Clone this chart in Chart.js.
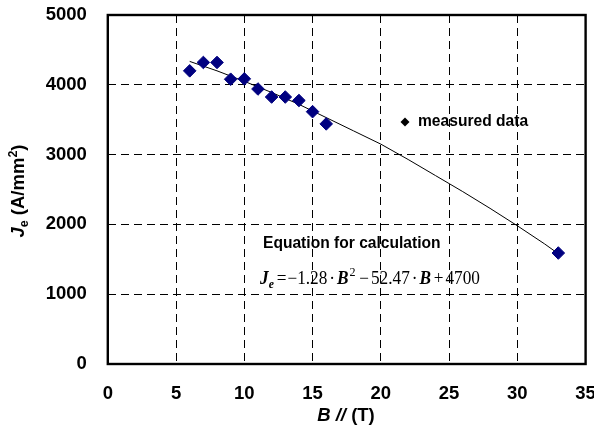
<!DOCTYPE html>
<html>
<head>
<meta charset="utf-8">
<script src="https://cdn.jsdelivr.net/npm/chart.js@4/dist/chart.umd.min.js"></script>
<style>
  html, body { margin: 0; padding: 0; background: #fff; }
  #c { display: block; }
</style>
</head>
<body>
<canvas id="c" width="594" height="427"></canvas>
<script>
// Measured data (B // in T, Je in A/mm^2)
const measuredB = [6, 7, 8, 9, 10, 11, 12, 13, 14, 15, 16, 33];
const measuredJe = [4200, 4320, 4320, 4080, 4085, 3940, 3825, 3825, 3775, 3615, 3440, 1590];

// Fitted curve
const fitB = [6, 8, 10, 12, 14, 16, 18, 20, 22, 24, 26, 28, 30, 32, 33];
const fitJe = [4335, 4200, 4050, 3890, 3720, 3530, 3340, 3150, 2930, 2700, 2470, 2230, 1980, 1720, 1580];

const xTicks = [0, 5, 10, 15, 20, 25, 30, 35];
const yTicks = [0, 1000, 2000, 3000, 4000, 5000];

const legendLabel = 'measured data';
const equationTitle = 'Equation for calculation';

const SANS = '"Liberation Sans", Arial, sans-serif';
const SERIF = '"Liberation Serif", "Times New Roman", serif';

function drawRuns(ctx, runs, x, y) {
  let cx = x;
  for (const r of runs) {
    ctx.font = r.font;
    ctx.fillText(r.t, cx, y + (r.dy || 0));
    cx += ctx.measureText(r.t).width + (r.gap || 0);
  }
  return cx - x;
}
function runsWidth(ctx, runs) {
  let w = 0;
  for (const r of runs) { ctx.font = r.font; w += ctx.measureText(r.t).width + (r.gap || 0); }
  return w;
}

const decor = {
  id: 'decor',
  afterDraw(chart) {
    const ctx = chart.ctx;
    const a = chart.chartArea;
    ctx.save();
    // frame
    ctx.strokeStyle = '#000';
    ctx.lineWidth = 2.4;
    ctx.strokeRect(a.left, a.top, a.right - a.left, a.bottom - a.top);

    ctx.fillStyle = '#000';
    ctx.textBaseline = 'alphabetic';
    ctx.textAlign = 'left';

    // x-axis title
    const xr = [
      { t: 'B //', font: `italic bold 18.5px ${SANS}` },
      { t: ' (T)', font: `bold 18.5px ${SANS}` }
    ];
    const xw = runsWidth(ctx, xr);
    drawRuns(ctx, xr, 346 - xw / 2, 421);

    // y-axis title (rotated)
    ctx.save();
    ctx.translate(24, 191);
    ctx.rotate(-Math.PI / 2);
    const yr = [
      { t: 'J', font: `italic bold 18.5px ${SANS}` },
      { t: 'e', font: `bold 12.5px ${SANS}`, dy: 4 },
      { t: ' (A/mm', font: `bold 18.5px ${SANS}` },
      { t: '2', font: `bold 12.5px ${SANS}`, dy: -7 },
      { t: ')', font: `bold 18.5px ${SANS}` }
    ];
    const yw = runsWidth(ctx, yr);
    drawRuns(ctx, yr, -yw / 2, 0);
    ctx.restore();

    // legend
    const lx = 405, ly = 122;
    ctx.beginPath();
    ctx.moveTo(lx - 4.5, ly); ctx.lineTo(lx, ly - 4.5); ctx.lineTo(lx + 4.5, ly); ctx.lineTo(lx, ly + 4.5);
    ctx.closePath();
    ctx.fill();
    ctx.textBaseline = 'middle';
    ctx.font = `bold 15.6px ${SANS}`;
    ctx.fillText(legendLabel, 418, ly);

    // equation block
    ctx.fillText(equationTitle, 263, 244);
    ctx.textBaseline = 'alphabetic';
    const fs = 18;
    const reg = `${fs}px ${SERIF}`;
    const bi = `italic bold ${fs}px ${SERIF}`;
    const eq = [
      { t: 'J', font: bi },
      { t: 'e', font: `italic bold ${fs * 0.68}px ${SERIF}`, dy: 4, gap: 3 },
      { t: '=', font: reg, gap: 1 },
      { t: '\u22121.28', font: reg, gap: 2 },
      { t: '\u00B7', font: reg, gap: 2 },
      { t: 'B', font: bi, gap: 1 },
      { t: '2', font: `${fs * 0.7}px ${SERIF}`, dy: -8, gap: 4 },
      { t: '\u2212', font: reg, gap: 2 },
      { t: '52.47', font: reg, gap: 2 },
      { t: '\u00B7', font: reg, gap: 2 },
      { t: 'B', font: bi, gap: 3 },
      { t: '+', font: reg, gap: 2 },
      { t: '4700', font: reg }
    ];
    const ew = runsWidth(ctx, eq);
    ctx.save();
    ctx.translate(260, 284);
    ctx.scale(220 / ew, 1);
    drawRuns(ctx, eq, 0, 0);
    ctx.restore();
    ctx.restore();
  }
};

new Chart(document.getElementById('c'), {
  type: 'scatter',
  data: {
    datasets: [
      {
        label: legendLabel,
        data: measuredB.map((b, i) => ({ x: b, y: measuredJe[i] })),
        pointStyle: 'rectRot',
        pointRadius: 6.3,
        backgroundColor: '#000080',
        borderColor: '#000080',
        borderWidth: 1,
        showLine: false
      },
      {
        label: 'fit',
        data: fitB.map((b, i) => ({ x: b, y: fitJe[i] })),
        showLine: true,
        borderColor: '#000',
        borderWidth: 1,
        pointRadius: 0,
        tension: 0,
        fill: false
      }
    ]
  },
  options: {
    responsive: false,
    animation: false,
    devicePixelRatio: 1,
    layout: { padding: { top: 15, right: 8.4, bottom: 0, left: 0 } },
    plugins: { legend: { display: false }, tooltip: { enabled: false } },
    scales: {
      x: {
        type: 'linear',
        min: 0, max: 35,
        afterBuildTicks(s) { s.ticks = xTicks.map(v => ({ value: v })); },
        afterFit(s) { s.height = 63; s.paddingLeft = 0; s.paddingRight = 0; },
        ticks: {
          color: '#000',
          padding: 19,
          font: { family: SANS, size: 18.5, weight: 'bold' },
          maxRotation: 0,
          autoSkip: false,
          callback: v => String(v)
        },
        grid: { color: '#000', lineWidth: 1, drawTicks: false },
        border: { display: false, dash: [8, 5] }
      },
      y: {
        type: 'linear',
        min: 0, max: 5000,
        afterBuildTicks(s) { s.ticks = yTicks.map(v => ({ value: v })); },
        afterFit(s) { s.width = 107.8; s.paddingTop = 0; s.paddingBottom = 0; },
        ticks: {
          color: '#000',
          padding: 21,
          font: { family: SANS, size: 18.5, weight: 'bold' },
          autoSkip: false,
          callback: v => String(v)
        },
        grid: { color: '#000', lineWidth: 1, drawTicks: false },
        border: { display: false, dash: [8, 5] }
      }
    }
  },
  plugins: [decor]
});
</script>
</body>
</html>
